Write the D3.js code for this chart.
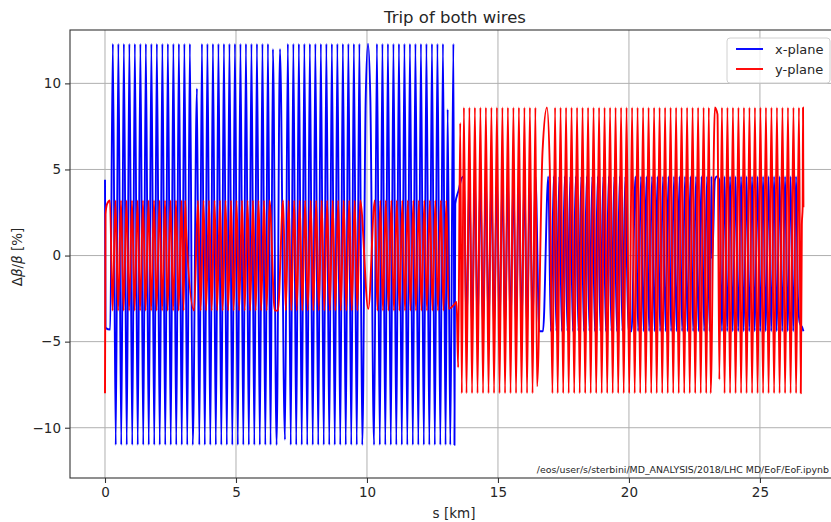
<!DOCTYPE html>
<html>
<head>
<meta charset="utf-8">
<script src="https://d3js.org/d3.v7.min.js"></script>
<style>
body { margin: 0; background: #fff; }
text { font-family: "DejaVu Sans", sans-serif; fill: #262626; }
</style>
</head>
<body>
<svg class="chart" width="831" height="522"></svg>
<script>
// s [km], delta beta / beta [%]
var xFirst = [[0.00,4.4],[0.02,-4.2],[0.20,-4.3],
[0.30,12.3],[0.41,-11.0],[0.51,12.3],[0.62,-11.0],[0.72,12.3],[0.83,-11.0],[0.93,12.3],[1.04,-11.0],[1.14,12.3],[1.25,-11.0],[1.35,12.3],[1.46,-11.0],[1.56,12.3],[1.67,-11.0],[1.77,12.3],[1.88,-11.0],[1.98,12.3],[2.09,-11.0],[2.19,12.3],[2.30,-11.0],[2.40,12.3],[2.51,-11.0],[2.61,12.3],[2.72,-11.0],[2.82,12.3],[2.93,-11.0],[3.03,12.3],[3.14,-11.0],[3.24,12.3],[3.35,-11.0],
[3.51,9.7],[3.60,-11.0],
[3.70,12.3],[3.81,-11.0],[3.91,12.3],[4.02,-11.0],[4.12,12.3],[4.23,-11.0],[4.33,12.3],[4.44,-11.0],[4.54,12.3],[4.65,-11.0],[4.75,12.3],[4.86,-11.0],[4.96,12.3],[5.07,-11.0],[5.17,12.3],[5.28,-11.0],[5.38,12.3],[5.49,-11.0],[5.59,12.3],[5.70,-11.0],[5.80,12.3],[5.91,-11.0],[6.01,12.3],[6.12,-11.0],[6.22,12.3],[6.32,-11.0],[6.41,12.0],[6.55,-11.0],[6.68,12.0],[6.87,-10.7],
[6.98,12.3],[7.09,-11.0],[7.19,12.3],[7.30,-11.0],[7.40,12.3],[7.51,-11.0],[7.61,12.3],[7.72,-11.0],[7.82,12.3],[7.93,-11.0],[8.03,12.3],[8.14,-11.0],[8.24,12.3],[8.35,-11.0],[8.45,12.3],[8.56,-11.0],[8.66,12.3],[8.77,-11.0],[8.87,12.3],[8.98,-11.0],[9.08,12.3],[9.19,-11.0],[9.29,12.3],[9.40,-11.0],[9.50,12.3],[9.61,-11.0],[9.71,12.3],[9.82,-11.0],
[9.95,9.0],[10.04,12.3],[10.13,9.0],[10.27,-11.0],
[10.38,12.3],[10.49,-11.0],[10.59,12.3],[10.70,-11.0],[10.80,12.3],[10.91,-11.0],[11.01,12.3],[11.12,-11.0],[11.22,12.3],[11.33,-11.0],[11.43,12.3],[11.54,-11.0],[11.64,12.3],[11.75,-11.0],[11.85,12.3],[11.96,-11.0],[12.06,12.3],[12.17,-11.0],[12.27,12.3],[12.38,-11.0],[12.48,12.3],[12.59,-11.0],[12.69,12.3],[12.80,-11.0],[12.90,12.3],[13.00,-11.0],[13.08,8.5],[13.18,-11.0],[13.30,12.3],[13.34,-11.0],[13.37,3.0],[13.50,3.8],[13.62,4.5]];

var xSecond = [[13.70,4.6],[13.80,-4.4],[13.91,4.6],[14.01,-4.4],[14.12,4.6],[14.22,-4.4],[14.33,4.6],[14.43,-4.4],[14.54,4.6],[14.64,-4.4],[14.75,4.6],[14.85,-4.4],[14.96,4.6],[15.06,-4.4],[15.17,4.6],[15.27,-4.4],[15.38,4.6],[15.48,-4.4],[15.59,4.6],[15.69,-4.4],[15.80,4.6],[15.90,-4.4],[16.01,4.6],[16.11,-4.4],[16.22,4.6],[16.32,-4.4],[16.43,4.6],
[16.58,-4.4],[16.72,-4.4],
[16.92,4.6],[17.02,-4.4],[17.13,4.6],[17.23,-4.4],[17.34,4.6],[17.44,-4.4],[17.55,4.6],[17.65,-4.4],[17.76,4.6],[17.86,-4.4],[17.97,4.6],[18.07,-4.4],[18.18,4.6],[18.28,-4.4],[18.39,4.6],[18.49,-4.4],[18.60,4.6],[18.70,-4.4],[18.81,4.6],[18.91,-4.4],[19.02,4.6],[19.12,-4.4],[19.23,4.6],[19.33,-4.4],[19.44,4.6],[19.54,-4.4],[19.65,4.6],[19.75,-4.4],[19.86,4.6],
[19.98,-4.4],[20.10,-4.4],
[20.25,4.6],[20.35,-4.4],[20.46,4.6],[20.56,-4.4],[20.67,4.6],[20.77,-4.4],[20.88,4.6],[20.98,-4.4],[21.09,4.6],[21.19,-4.4],[21.30,4.6],[21.40,-4.4],[21.51,4.6],[21.61,-4.4],[21.72,4.6],[21.82,-4.4],[21.93,4.6],[22.03,-4.4],[22.14,4.6],[22.24,-4.4],[22.35,4.6],[22.45,-4.4],[22.56,4.6],[22.66,-4.4],[22.77,4.6],[22.87,-4.4],[22.98,4.6],[23.08,-4.4],[23.15,4.6],[23.18,-0.2],[23.28,4.4],[23.36,4.6],[23.45,4.4],[23.55,-4.4],
[23.65,4.6],[23.75,-4.4],[23.86,4.6],[23.96,-4.4],[24.07,4.6],[24.17,-4.4],[24.28,4.6],[24.38,-4.4],[24.49,4.6],[24.59,-4.4],[24.70,4.6],[24.80,-4.4],[24.91,4.6],[25.01,-4.4],[25.12,4.6],[25.22,-4.4],[25.33,4.6],[25.43,-4.4],[25.54,4.6],[25.64,-4.4],[25.75,4.6],[25.85,-4.4],[25.96,4.6],[26.06,-4.4],[26.17,4.6],[26.27,-4.4],[26.38,4.6],
[26.45,-2.4],[26.52,-3.9],[26.62,-4.2],[26.66,-4.4]];

var yFirst = [[0.00,-8.0],[0.02,2.4],[0.08,3.0],[0.19,3.2],
[0.29,-3.2],[0.40,3.2],[0.50,-3.2],[0.61,3.2],[0.71,-3.2],[0.82,3.2],[0.92,-3.2],[1.03,3.2],[1.13,-3.2],[1.24,3.2],[1.34,-3.2],[1.45,3.2],[1.55,-3.2],[1.66,3.2],[1.76,-3.2],[1.87,3.2],[1.97,-3.2],[2.08,3.2],[2.18,-3.2],[2.29,3.2],[2.39,-3.2],[2.50,3.2],[2.60,-3.2],[2.71,3.2],[2.81,-3.2],[2.92,3.2],[3.00,-3.2],[3.06,3.2],[3.09,1.7],
[3.40,-3.2],
[3.55,3.2],[3.65,-3.2],[3.76,3.2],[3.86,-3.2],[3.97,3.2],[4.07,-3.2],[4.18,3.2],[4.28,-3.2],[4.39,3.2],[4.49,-3.2],[4.60,3.2],[4.70,-3.2],[4.81,3.2],[4.91,-3.2],[5.02,3.2],[5.12,-3.2],[5.23,3.2],[5.33,-3.2],[5.44,3.2],[5.54,-3.2],[5.65,3.2],[5.75,-3.2],[5.86,3.2],[5.96,-3.2],[6.07,3.2],[6.17,-3.2],[6.28,3.2],
[6.48,-3.2],[6.60,-3.2],
[6.80,3.2],[6.90,-3.2],[7.01,3.2],[7.11,-3.2],[7.22,3.2],[7.32,-3.2],[7.43,3.2],[7.53,-3.2],[7.64,3.2],[7.74,-3.2],[7.85,3.2],[7.95,-3.2],[8.06,3.2],[8.16,-3.2],[8.27,3.2],[8.37,-3.2],[8.48,3.2],[8.58,-3.2],[8.69,3.2],[8.79,-3.2],[8.90,3.2],[9.00,-3.2],[9.11,3.2],[9.21,-3.2],[9.32,3.2],[9.42,-3.2],[9.53,3.2],[9.63,-3.2],[9.74,3.2],
[10.05,-3.1],
[10.30,3.2],[10.40,-3.2],[10.51,3.2],[10.61,-3.2],[10.72,3.2],[10.82,-3.2],[10.93,3.2],[11.03,-3.2],[11.14,3.2],[11.24,-3.2],[11.35,3.2],[11.45,-3.2],[11.56,3.2],[11.66,-3.2],[11.77,3.2],[11.87,-3.2],[11.98,3.2],[12.08,-3.2],[12.19,3.2],[12.29,-3.2],[12.40,3.2],[12.50,-3.2],[12.61,3.2],[12.71,-3.2],[12.82,3.2],[12.92,-3.2],[13.03,3.2],
[13.12,-3.1],[13.30,-2.9],[13.42,-2.7]];

var ySecond = [[13.48,-6.5],[13.56,7.7],[13.62,-8.0],
[13.70,8.6],[13.80,-8.0],[13.91,8.6],[14.01,-8.0],[14.12,8.6],[14.22,-8.0],[14.33,8.6],[14.43,-8.0],[14.54,8.6],[14.64,-8.0],[14.75,8.6],[14.85,-8.0],[14.96,8.6],[15.06,-8.0],[15.17,8.6],[15.27,-8.0],[15.38,8.6],[15.48,-8.0],[15.59,8.6],[15.69,-8.0],[15.80,8.6],[15.90,-8.0],[16.01,8.6],[16.11,-8.0],[16.22,8.6],[16.32,-8.0],[16.43,8.6],
[16.49,-7.6],[16.70,6.0],[16.87,8.6],[16.98,5.0],[17.08,-8.0],
[17.18,8.6],[17.28,-8.0],[17.39,8.6],[17.49,-8.0],[17.60,8.6],[17.70,-8.0],[17.81,8.6],[17.91,-8.0],[18.02,8.6],[18.12,-8.0],[18.23,8.6],[18.33,-8.0],[18.44,8.6],[18.54,-8.0],[18.65,8.6],[18.75,-8.0],[18.86,8.6],[18.96,-8.0],[19.07,8.6],[19.17,-8.0],[19.28,8.6],[19.38,-8.0],[19.49,8.6],[19.59,-8.0],[19.70,8.6],[19.80,-8.0],[19.91,8.6],[20.01,-8.0],[20.12,8.6],[20.22,-8.0],[20.33,8.6],[20.43,-8.0],[20.54,8.6],[20.64,-8.0],[20.75,8.6],[20.85,-8.0],[20.96,8.6],[21.06,-8.0],[21.17,8.6],[21.27,-8.0],[21.38,8.6],[21.48,-8.0],[21.59,8.6],[21.69,-8.0],[21.80,8.6],[21.90,-8.0],[22.01,8.6],[22.11,-8.0],[22.22,8.6],[22.32,-8.0],[22.43,8.6],[22.53,-8.0],[22.64,8.6],[22.74,-8.0],[22.85,8.6],[22.95,-8.0],
[23.05,8.6],[23.12,-8.0],[23.28,8.6],[23.38,8.2],[23.45,-7.2],
[23.55,8.6],[23.65,-8.0],[23.76,8.6],[23.86,-8.0],[23.97,8.6],[24.07,-8.0],[24.18,8.6],[24.28,-8.0],[24.39,8.6],[24.49,-8.0],[24.60,8.6],[24.70,-8.0],[24.81,8.6],[24.91,-8.0],[25.02,8.6],[25.12,-8.0],[25.23,8.6],[25.33,-8.0],[25.44,8.6],[25.54,-8.0],[25.65,8.6],[25.75,-8.0],[25.86,8.6],[25.96,-8.0],[26.07,8.6],[26.17,-8.0],[26.28,8.6],[26.38,-8.0],[26.49,8.6],
[26.56,-8.0],[26.60,1.8],[26.63,2.8],[26.645,8.6],[26.66,2.8]];

var seriesNames = ["x-plane", "y-plane"];
var seriesColors = ["#0000ff", "#ff0000"];
var xTicks = [0, 5, 10, 15, 20, 25];
var yTicks = [-10, -5, 0, 5, 10];
var xDomain = [-1.336, 27.98];
var yDomain = [-12.92, 13.1];

var series = [xFirst.concat(xSecond), yFirst.concat(ySecond)];

var margin = {top: 30, left: 70},
    width = 768,
    height = 448;

var svg = d3.select(".chart");

var xScale = d3.scaleLinear().domain(xDomain).range([0, width]);
var yScale = d3.scaleLinear().domain(yDomain).range([height, 0]);

var chart = svg.append('g')
	.attr('transform', `translate(${margin.left},${margin.top})`);

svg.append('defs').append('clipPath').attr('id', 'clip')
	.append('rect').attr('width', width).attr('height', height);

// grid
chart.append('g').selectAll('line')
	.data(xTicks).enter().append('line')
	.attr('x1', function(d){return xScale(d);}).attr('x2', function(d){return xScale(d);})
	.attr('y1', 0).attr('y2', height)
	.style('stroke', '#b0b0b0').style('stroke-width', 1);
chart.append('g').selectAll('line')
	.data(yTicks).enter().append('line')
	.attr('y1', function(d){return yScale(d);}).attr('y2', function(d){return yScale(d);})
	.attr('x1', 0).attr('x2', width)
	.style('stroke', '#b0b0b0').style('stroke-width', 1);

var line = d3.line()
	.x(function(d){return xScale(d[0]);})
	.y(function(d){return yScale(d[1]);})
	.curve(d3.curveMonotoneX);

chart.append('g').attr('clip-path', 'url(#clip)')
	.selectAll('path')
	.data(series).enter().append('path')
	.attr('d', line)
	.style('fill', 'none')
	.style('stroke', function(d, i){return seriesColors[i];})
	.style('stroke-width', 1.9)
	.style('stroke-linejoin', 'round');

// axes
var xAxis = chart.append('g')
	.attr('transform', `translate(0,${height})`)
	.call(d3.axisBottom(xScale).tickValues(xTicks).tickSize(5).tickPadding(4));
var yAxis = chart.append('g')
	.call(d3.axisLeft(yScale).tickValues(yTicks).tickSize(5).tickPadding(4));

[xAxis, yAxis].forEach(function(a){
	a.selectAll('text').style('font-size', '13.5px').style('fill', '#262626');
	a.selectAll('line').style('stroke', '#333').style('stroke-width', 1.1);
	a.select('.domain').remove();
});

// spines
chart.append('rect')
	.attr('width', width).attr('height', height)
	.style('fill', 'none').style('stroke', '#333').style('stroke-width', 1.1);

svg.append('text')
	.attr('x', 455).attr('y', 23)
	.attr('text-anchor', 'middle')
	.style('font-size', '16.5px')
	.text('Trip of both wires');

svg.append('text')
	.attr('x', 454).attr('y', 518)
	.attr('text-anchor', 'middle')
	.style('font-size', '13.5px')
	.text('s [km]');

var ylab = svg.append('text')
	.attr('transform', 'translate(22,257) rotate(-90)')
	.attr('text-anchor', 'middle')
	.style('font-size', '13.5px');
ylab.append('tspan').text('Δ');
ylab.append('tspan').style('font-style', 'italic').text('β');
ylab.append('tspan').text('/');
ylab.append('tspan').style('font-style', 'italic').text('β');
ylab.append('tspan').text(' [%]');

svg.append('text')
	.attr('x', 829).attr('y', 473)
	.attr('text-anchor', 'end')
	.style('font-size', '9.4px')
	.text('/eos/user/s/sterbini/MD_ANALYSIS/2018/LHC MD/EoF/EoF.ipynb');

// legend
var legend = svg.append('g').attr('transform', 'translate(727,38)');
legend.append('rect')
	.attr('width', 103).attr('height', 45).attr('rx', 3)
	.style('fill', '#fff').style('fill-opacity', 0.8)
	.style('stroke', '#d0d0d0');
seriesNames.forEach(function(name, i){
	legend.append('line')
		.attr('x1', 9).attr('x2', 36)
		.attr('y1', 11 + i * 20).attr('y2', 11 + i * 20)
		.style('stroke', seriesColors[i]).style('stroke-width', 1.9);
	legend.append('text')
		.attr('x', 48).attr('y', 16 + i * 20)
		.style('font-size', '13px')
		.text(name);
});
</script>
</body>
</html>
